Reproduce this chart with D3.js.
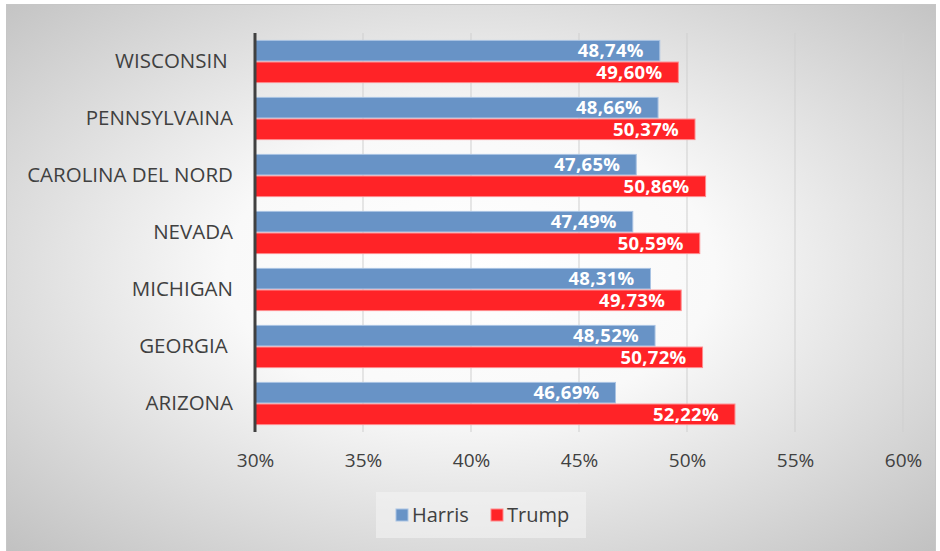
<!DOCTYPE html>
<html>
<head>
<meta charset="utf-8">
<script src="https://cdn.jsdelivr.net/npm/d3@7"></script>
<style>
  body { margin: 0; background: #fff; }
  text { font-family: "Open Sans", "Liberation Sans", sans-serif; }
</style>
</head>
<body>
<div id="chart"></div>
<script>
const STATES = ['WISCONSIN ', 'PENNSYLVAINA', 'CAROLINA DEL NORD', 'NEVADA', 'MICHIGAN', 'GEORGIA ', 'ARIZONA'];
const HARRIS = [48.74, 48.66, 47.65, 47.49, 48.31, 48.52, 46.69];
const TRUMP = [49.60, 50.37, 50.86, 50.59, 49.73, 50.72, 52.22];
const TICKS = [30, 35, 40, 45, 50, 55, 60];
const SERIES = [
  {name: 'Harris', values: HARRIS, fill: '#6893c6', stroke: '#a9c3e3'},
  {name: 'Trump', values: TRUMP, fill: '#ff2327', stroke: '#ff8a8c'}
];

const W = 940, H = 551;
const MARGIN = {left: 255, right: 37, top: 33, bottom: 119};
const WIDTH = W - MARGIN.left - MARGIN.right;
const HEIGHT = H - MARGIN.top - MARGIN.bottom;

const svg = d3.select('#chart').append('svg')
  .attr('width', W)
  .attr('height', H);

// background gradient like the office chart
const defs = svg.append('defs');
const grad = defs.append('radialGradient')
  .attr('id', 'bg')
  .attr('cx', '50%').attr('cy', '48%').attr('r', '75%');
grad.append('stop').attr('offset', '0%').attr('stop-color', '#ffffff');
grad.append('stop').attr('offset', '35%').attr('stop-color', '#f9f9f9');
grad.append('stop').attr('offset', '100%').attr('stop-color', '#bdbdbd');

svg.append('rect')
  .attr('x', 6.5).attr('y', 4.5)
  .attr('width', 929).attr('height', 550)
  .attr('fill', 'url(#bg)')
  .attr('stroke', '#c6c6c6');

const g = svg.append('g')
  .attr('transform', `translate(${MARGIN.left},${MARGIN.top})`);

const x = d3.scaleLinear()
  .domain([30, 60])
  .range([0, WIDTH]);

const y = d3.scaleBand()
  .domain(STATES)
  .range([0, HEIGHT])
  .paddingInner(0.26)
  .paddingOuter(0.13);

const sub = d3.scaleBand()
  .domain(SERIES.map(d => d.name))
  .range([0, y.bandwidth()])
  .paddingInner(0.05);

// gridlines
g.append('g')
  .selectAll('line')
  .data(TICKS.slice(1))
  .join('line')
    .attr('x1', d => x(d)).attr('x2', d => x(d))
    .attr('y1', 0).attr('y2', HEIGHT)
    .attr('stroke', '#cfcfcf')
    .attr('stroke-width', 1);

// bars
SERIES.forEach(s => {
  const grp = g.append('g');
  grp.selectAll('rect')
    .data(STATES)
    .join('rect')
      .attr('x', x(30))
      .attr('y', d => y(d) + sub(s.name))
      .attr('width', (d, i) => x(s.values[i]) - x(30))
      .attr('height', sub.bandwidth())
      .attr('fill', s.fill)
      .attr('stroke', s.stroke)
      .attr('stroke-width', 1);

  grp.selectAll('text')
    .data(STATES)
    .join('text')
      .attr('x', (d, i) => x(s.values[i]) - 16)
      .attr('y', d => y(d) + sub(s.name) + sub.bandwidth() / 2)
      .attr('dy', '0.36em')
      .attr('text-anchor', 'end')
      .attr('fill', '#fff')
      .attr('font-size', '18.5px')
      .attr('letter-spacing', '0.3px')
      .attr('font-weight', 'bold')
      .text((d, i) => s.values[i].toFixed(2).replace('.', ',') + '%');
});

// y axis
const yAxis = g.append('g').call(d3.axisLeft(y).tickSize(0).tickPadding(22));
yAxis.select('.domain').remove();
yAxis.selectAll('text')
  .attr('font-size', '20.5px')
  .attr('fill', '#404040')
  .style('white-space', 'pre');

g.append('line')
  .attr('x1', 0).attr('x2', 0)
  .attr('y1', 0).attr('y2', HEIGHT)
  .attr('stroke', '#404040')
  .attr('stroke-width', 3);

// x axis
const xAxis = g.append('g')
  .attr('transform', `translate(0,${HEIGHT})`)
  .call(d3.axisBottom(x).tickValues(TICKS).tickSize(0).tickPadding(22).tickFormat(d => d + '%'));
xAxis.select('.domain').remove();
xAxis.selectAll('text')
  .attr('font-size', '19px')
  .attr('fill', '#404040');

// legend
const legend = svg.append('g')
  .attr('transform', 'translate(376,492)');
legend.append('rect')
  .attr('width', 210).attr('height', 46)
  .attr('fill', '#f4f4f4')
  .attr('opacity', 0.6);

const legendX = [20, 115];
SERIES.forEach((s, i) => {
  const row = legend.append('g')
    .attr('transform', `translate(${legendX[i]},0)`);
  row.append('rect')
    .attr('x', 0).attr('y', 17)
    .attr('width', 12).attr('height', 12)
    .attr('fill', s.fill)
    .attr('stroke', s.stroke);
  row.append('text')
    .attr('x', 16).attr('y', 23)
    .attr('dy', '0.36em')
    .attr('font-size', '20px')
    .attr('fill', '#404040')
    .text(s.name);
});
</script>
</body>
</html>
